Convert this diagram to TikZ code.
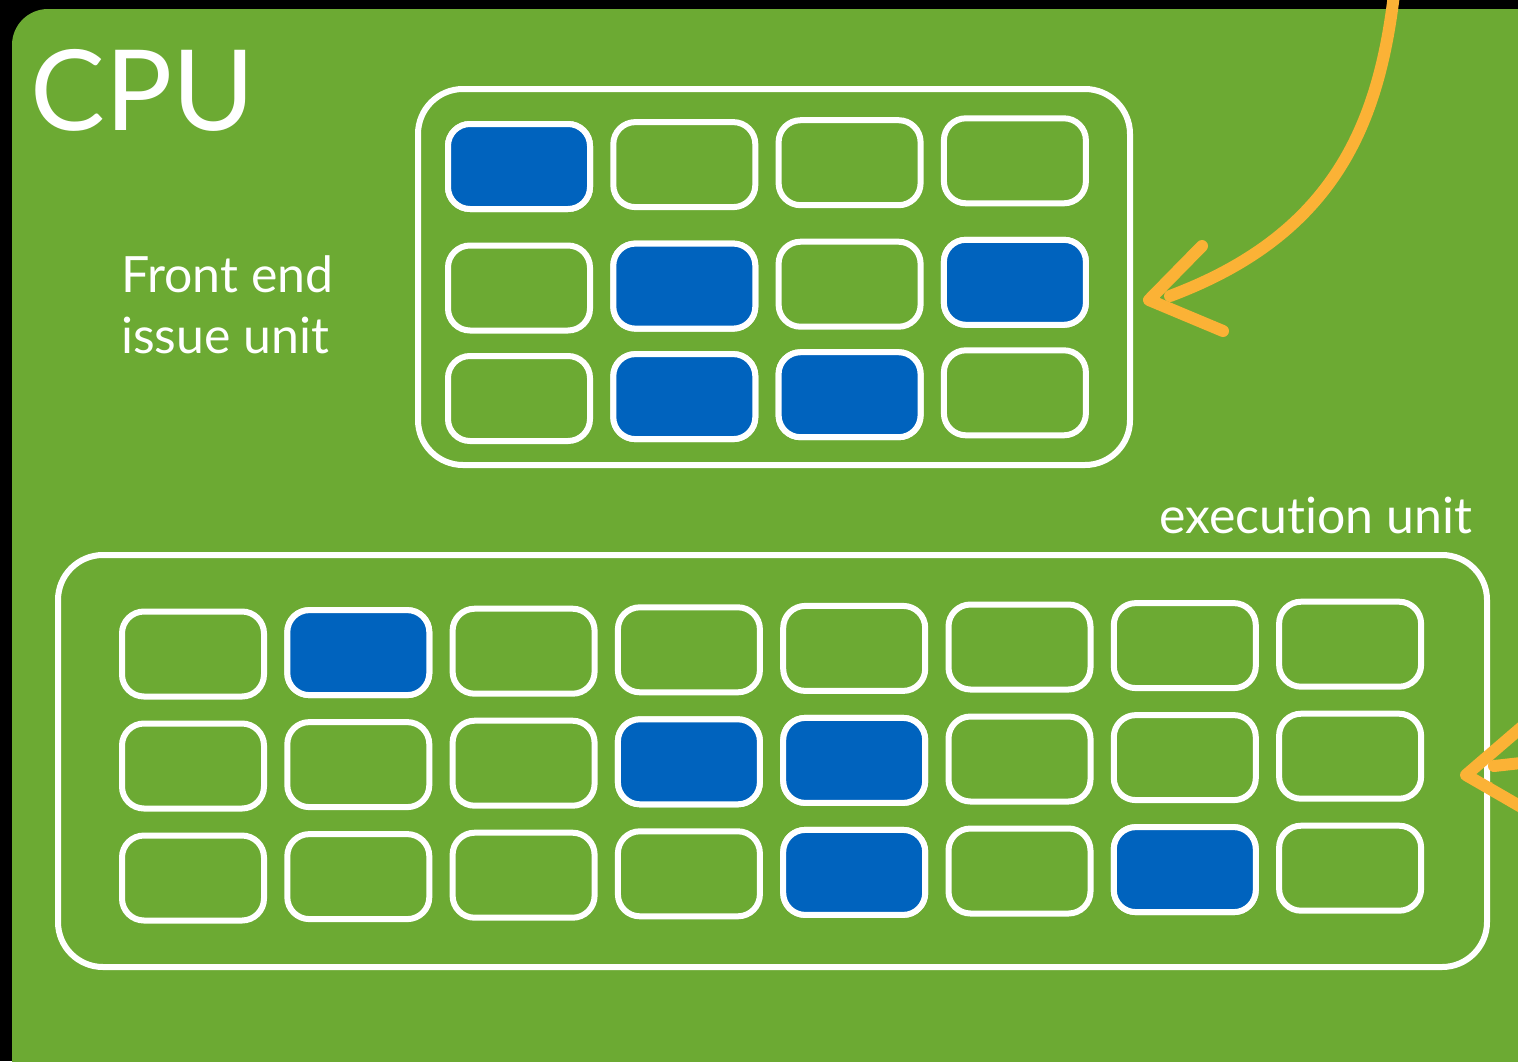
\documentclass[tikz,border=0pt]{standalone}
\usepackage{fontspec}
\setmainfont{Lato}[Ligatures={NoCommon}]
\usetikzlibrary{decorations.pathmorphing}
\definecolor{cpugreen}{HTML}{6CAA33}
\definecolor{cellblue}{HTML}{0063BE}
\definecolor{arroworange}{HTML}{FBB236}
\begin{document}
\begin{tikzpicture}[x=1pt,y=-1pt,
  cellbox/.style={draw=white, line width=6pt, rounded corners=22pt, minimum width=142pt, minimum height=85pt, inner sep=0pt, fill=cpugreen},
  bluecell/.style={cellbox, fill=cellblue},
  unitbox/.style={draw=white, line width=6pt, rounded corners=45pt, inner sep=0pt},
  lbl/.style={text=white, inner sep=0pt, anchor=base west},
  sketch/.style={draw=arroworange, line width=12pt, line cap=round, line join=round},
  rough/.style={draw=arroworange, line width=3pt, line cap=round,
    decorate, decoration={random steps, segment length=4pt, amplitude=2.5pt}}]
\useasboundingbox (0,0) rectangle (1518,1061);
\clip (0,0) rectangle (1518,1061);
\fill[black] (0,0) rectangle (1518,1061);
\fill[cpugreen, rounded corners=36pt] (12,9) rectangle (1580,1130);
% text
\node[lbl, font=\fontsize{112}{112}\selectfont] (cpu) at (30,130) {CPU};
\node[lbl, font=\fontsize{50}{50}\selectfont] (fe1) at (121,292) {Front end};
\node[lbl, font=\fontsize{50}{50}\selectfont] (fe2) at (121,353) {issue unit};
\node[lbl, font=\fontsize{50}{50}\selectfont] (exl) at (1159,533) {execution unit};
% front-end box
\node[unitbox, minimum width=712pt, minimum height=376pt] (fe) at (774,277) {};
\foreach \r/\ry in {0/166.5, 1/288, 2/398.5}{
  \foreach \c in {0,1,2,3}{
    \pgfmathsetmacro{\cx}{519+165.3*\c}
    \pgfmathsetmacro{\cy}{\ry-1.9*\c}
    \node[cellbox] (fe-\r-\c) at (\cx,\cy) {};
  }
}
\foreach \r/\c in {0/0, 1/1, 1/3, 2/1, 2/2}{
  \pgfmathsetmacro{\cx}{519+165.3*\c}
  \pgfmathsetmacro{\cy}{166.5+(\r==1)*121.5+(\r==2)*232-1.9*\c}
  \node[bluecell] at (\cx,\cy) {};
}
% execution box
\node[unitbox, minimum width=1429pt, minimum height=412pt] (ex) at (772.5,761) {};
\foreach \r/\ry in {0/654, 1/766, 2/878}{
  \foreach \c in {0,...,7}{
    \pgfmathsetmacro{\cx}{193+165.3*\c}
    \pgfmathsetmacro{\cy}{\ry-1.4*\c}
    \node[cellbox] (ex-\r-\c) at (\cx,\cy) {};
  }
}
\foreach \r/\c in {0/1, 1/3, 1/4, 2/4, 2/6}{
  \pgfmathsetmacro{\cx}{193+165.3*\c}
  \pgfmathsetmacro{\cy}{654+112*\r-1.4*\c}
  \node[bluecell] at (\cx,\cy) {};
}
% arrows
\coordinate (a1s) at (1394,-6);
\coordinate (a1t) at (1149,300);
\draw[sketch] (a1s) .. controls (1378,130) and (1330,236) .. (1170,296);
\draw[rough] (a1s) .. controls (1378,130) and (1330,236) .. (1170,296);
\draw[sketch] (1202,246) -- (a1t) -- (1223,331);
\draw[rough] (1202,246) -- (a1t) -- (1223,331);
\coordinate (a2t) at (1466,775);
\draw[sketch] (1530,720) -- (a2t) -- (1530,812);
\draw[rough] (1530,720) -- (a2t) -- (1530,812);
\draw[sketch] (1494,766) -- (1530,762);
\end{tikzpicture}
\end{document}
